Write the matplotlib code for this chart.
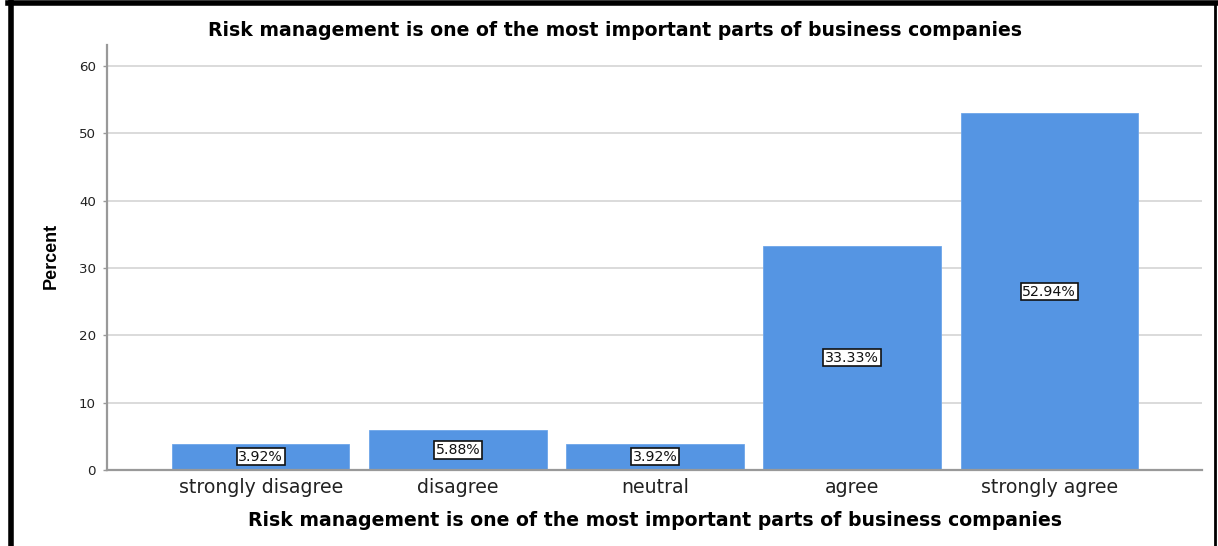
import matplotlib.pyplot as plt
from matplotlib.lines import Line2D

categories = ['strongly disagree', 'disagree', 'neutral', 'agree', 'strongly agree']
percent = [3.92, 5.88, 3.92, 33.33, 52.94]
y_ticks = [0, 10, 20, 30, 40, 50, 60]

title = 'Risk management is one of the most important parts of business companies'

plt.rcParams['font.family'] = ['DejaVu Sans']

fig = plt.figure(figsize=(12.18, 5.46), dpi=100, facecolor='white')
W, H = 1218, 546
ax = fig.add_axes([107 / W, 1 - 470 / H, (1202 - 107) / W, (470 - 45) / H])

x = range(len(categories))
ax.bar(x, percent, width=0.9, color='#5595e3', edgecolor='#6ea6ea', linewidth=0.6, zorder=2)

# value boxes in the middle of each bar
for i, v in zip(x, percent):
    ax.text(i, v / 2, f'{v:.2f}%', ha='center', va='center', fontsize=10.2, color='#111111', zorder=3,
            bbox=dict(boxstyle='square,pad=0.12', facecolor='white', edgecolor='#111111', linewidth=1.2))

ax.set_xlim(-0.78, 4.775)
ax.set_ylim(0, 63.1)
ax.set_yticks(y_ticks)
ax.set_xticks(list(x))
ax.set_xticklabels(categories, fontsize=13.6, color='#222222')
ax.tick_params(axis='y', labelsize=9.6, colors='#222222', length=3, width=1, color='#999999', pad=5)
ax.tick_params(axis='x', length=0, pad=6)
ax.yaxis.grid(True, color='#d4d4d4', linewidth=1.2, zorder=0)
ax.set_axisbelow(True)

for side in ['top', 'right']:
    ax.spines[side].set_visible(False)
for side in ['left', 'bottom']:
    ax.spines[side].set_color('#999999')
    ax.spines[side].set_linewidth(1.6)

ax.set_ylabel('Percent', fontsize=13, fontweight='bold', family=['Liberation Sans'])
ax.yaxis.set_label_coords(-0.043, 0.503)
ax.set_xlabel(title, fontsize=13.6, fontweight='bold', labelpad=10)
fig.text(615 / W, 1 - 31 / H, title, ha='center', va='center', fontsize=13.6, fontweight='bold')

# black frame around the figure
fig.add_artist(Line2D([10.5 / W, 10.5 / W], [0, 1 - 2 / H], color='black', linewidth=4, transform=fig.transFigure))
fig.add_artist(Line2D([8 / W, 1216 / W], [1 - 2.5 / H, 1 - 2.5 / H], color='black', linewidth=4, transform=fig.transFigure))
fig.add_artist(Line2D([1215 / W, 1215 / W], [0, 1 - 2 / H], color='black', linewidth=2, transform=fig.transFigure))

fig.savefig('out.png', dpi=100, facecolor='white')
